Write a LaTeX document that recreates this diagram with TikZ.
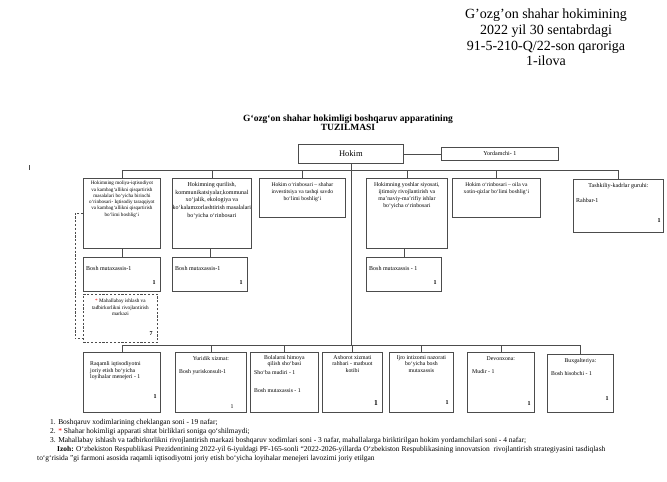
\documentclass[tikz,border=0pt]{standalone}
\usepackage{fontspec}
\setmainfont{Liberation Serif}
\newcommand{\fz}[2]{\fontsize{#1}{#2}\selectfont}
\begin{document}
\begin{tikzpicture}[x=1pt,y=-1pt,
  box/.style={draw=black!70, line width=0.8pt, anchor=north west, inner sep=0pt},
  dbox/.style={box, dash pattern=on 2.2pt off 1.6pt},
  link/.style={draw=black!70, line width=0.8pt},
  dlink/.style={link, dash pattern=on 2.2pt off 1.6pt},
  txt/.style={inner sep=0pt, align=center},
  ltxt/.style={inner sep=0pt, align=left, anchor=west},
  num/.style={inner sep=0pt, font=\bfseries\fz{6}{6}},
  foot/.style={inner sep=0pt, anchor=west, font=\fz{7.45}{7.45}},
  ]
\useasboundingbox[fill=white] (0,0) rectangle (667,482);

% header
\node[txt, font=\fz{14}{15.7}] (hdr) at (546,37.5) {G'ozg'on shahar hokimining\\2022 yil 30 sentabrdagi\\91-5-210-Q/22-son qaroriga\\1-ilova};
\node[txt, font=\bfseries\fz{9.5}{9.5}] (title) at (348,122.5) {G‘ozg‘on shahar hokimligi boshqaruv apparatining\\TUZILMASI};

% small tick
\coordinate (tk1) at (29,165);
\coordinate (tk2) at (29,170);
\draw[link, line width=0.6pt] (tk1) -- (tk2);

% Hokim and Yordamchi
\node[box, minimum width=105pt, minimum height=19pt] (hokim) at (298,144) {};
\node[txt, font=\fz{8.5}{8.5}] (hokimt) at (hokim.center) {Hokim};
\node[box, minimum width=117pt, minimum height=13pt] (yord) at (441,147) {};
\node[txt, font=\fz{6}{6}] (yordt) at (yord.center) {Yordamchi- 1};
\draw[link] (hokim.east |- yord.west) -- (yord.west);

% top row
\node[box, minimum width=77pt, minimum height=70pt] (t1) at (83,178) {};
\node[txt, anchor=north, font=\fz{5.1}{6.3}] (t1t) at ([yshift=-3pt]t1.north) {Hokimning moliya-iqtisodiyot\\va kambag‘allikni qisqartirish\\masalalari bo‘yicha birinchi\\o‘rinbosari- Iqtisodiy taraqqiyot\\va kambag‘allikni qisqartirish\\bo‘limi boshlig‘i};

\node[box, minimum width=79pt, minimum height=70pt] (t2) at (172,178) {};
\node[txt, anchor=north, font=\fz{6}{7.8}] (t2t) at ([yshift=-4pt]t2.north) {Hokimning qurilish,\\kommunikatsiyalar,kommunal\\xo‘jalik, ekologiya va\\ko‘kalamzorlashtirish masalalari\\bo‘yicha o‘rinbosari};

\node[box, minimum width=86pt, minimum height=39pt] (t3) at (259,178) {};
\node[txt, anchor=north, font=\fz{5.6}{7}] (t3t) at ([yshift=-4pt]t3.north) {Hokim o‘rinbosari – shahar\\investitsiya va tashqi savdo\\bo‘limi boshlig‘i};

\node[box, minimum width=81pt, minimum height=70pt] (t4) at (366,178) {};
\node[txt, anchor=north, font=\fz{5.8}{7}] (t4t) at ([yshift=-4pt]t4.north) {Hokimning yoshlar siyosati,\\ijtimoiy rivojlantirish va\\ma’naviy-ma’rifiy ishlar\\bo‘yicha o‘rinbosari};

\node[box, minimum width=88pt, minimum height=39pt] (t5) at (452,178) {};
\node[txt, anchor=north, font=\fz{5.6}{7}] (t5t) at ([yshift=-4pt]t5.north) {Hokim o‘rinbosari – oila va\\xotin-qizlar bo‘limi boshlig‘i};

\node[box, minimum width=90pt, minimum height=53pt] (t6) at (573,179) {};
\node[txt, anchor=north, font=\fz{6}{6}] (t6t) at ([yshift=-4.5pt]t6.north) {Tashkiliy-kadrlar guruhi:};
\node[ltxt, font=\fz{6}{6}] (t6r) at (576,200) {Rahbar-1};
\node[num] (t6n) at (659,221) {1};

% top bus
\coordinate (busL) at (121,170);
\draw[link] (t1.north |- busL) -- (t6.north |- busL);
\foreach \n in {t1,t2,t3,t4,t5,t6} {\draw[link] (\n.north |- busL) -- (\n.north);}
\draw[link] (hokim.south) -- (hokim.south |- busL);

% middle boxes
\node[box, minimum width=77pt, minimum height=34pt] (m1) at (83,257) {};
\node[ltxt, font=\fz{6}{6}] (m1t) at (86,268) {Bosh mutaxassis-1};
\node[num] (m1n) at (154,283) {1};
\node[box, minimum width=75pt, minimum height=34pt] (m2) at (172,257) {};
\node[ltxt, font=\fz{6}{6}] (m2t) at (175,268) {Bosh mutaxassis-1};
\node[num] (m2n) at (241,283) {1};
\node[box, minimum width=75pt, minimum height=34pt] (m4) at (366,257) {};
\node[ltxt, font=\fz{6}{6}] (m4t) at (369,268) {Bosh mutaxassis - 1};
\node[num] (m4n) at (435,283) {1};
\draw[link] (t1.south -| m1.north) -- (m1.north);
\draw[link] (t2.south -| m2.north) -- (m2.north);
\draw[link] (t4.south -| m4.north) -- (m4.north);

% dashed box
\node[dbox, minimum width=74pt, minimum height=48pt] (dsh) at (83,294) {};
\node[txt, anchor=north, font=\fz{5.2}{6.5}] (dsht) at ([yshift=-5pt]dsh.north) {{\color{red}*} Mahallabay ishlash va\\tadbirkorlikni rivojlantirish\\markazi};
\node[num] (dshn) at (151,334) {7};
\draw[dlink] ([yshift=-35pt]t1.north west) -- ++(-8,0) |- ([yshift=4pt]dsh.south west);

% bottom bus and trunk
\coordinate (bbus) at (351,345);
\draw[link] (hokim.south) -- (hokim.south |- bbus);

\node[box, minimum width=77pt, minimum height=60pt] (r1) at (83,352) {};
\node[box, minimum width=71pt, minimum height=60pt] (r2) at (175,352) {};
\node[box, minimum width=68pt, minimum height=60pt] (r3) at (250,352) {};
\node[box, minimum width=60pt, minimum height=60pt] (r4) at (322,352) {};
\node[box, minimum width=64pt, minimum height=60pt] (r5) at (389,352) {};
\node[box, minimum width=67pt, minimum height=60pt] (r6) at (467,352) {};
\node[box, minimum width=66pt, minimum height=58pt] (r7) at (547,354) {};
\draw[link] (r1.north |- bbus) -- (r7.north |- bbus);
\foreach \n in {r1,r2,r3,r4,r5,r6,r7} {\draw[link] (\n.north |- bbus) -- (\n.north);}

\node[ltxt, anchor=north west, font=\fz{5.8}{6.8}] (r1t) at (90,361) {Raqamli iqtisodiyotni\\joriy etish bo‘yicha\\loyihalar menejeri - 1};
\node[num] (r1n) at (155,397) {1};

\node[txt, anchor=north, font=\fz{5.8}{6.5}] (r2t) at ([yshift=-4pt]r2.north) {Yuridik xizmat:};
\node[ltxt, font=\fz{5.8}{5.8}] (r2b) at (179,372) {Bosh yuriskonsult-1};
\node[num, font=\fz{5.8}{5.8}] (r2n) at (232,407) {1};

\node[txt, anchor=north, font=\fz{5.8}{6.3}] (r3t) at ([yshift=-3pt]r3.north) {Bolalarni himoya\\qilish sho‘basi};
\node[ltxt, font=\fz{5.8}{5.8}] (r3a) at (254,373) {Sho‘ba mudiri - 1};
\node[ltxt, font=\fz{5.8}{5.8}] (r3b) at (254,391) {Bosh mutaxassis - 1};

\node[txt, anchor=north, font=\fz{5.8}{6.6}] (r4t) at ([yshift=-3pt]r4.north) {Axborot xizmati\\rahbari - matbuot\\kotibi};
\node[num, font=\bfseries\fz{7.5}{7.5}] (r4n) at (376,403) {1};

\node[txt, anchor=north, font=\fz{5.8}{6.6}] (r5t) at ([yshift=-3pt]r5.north) {Ijro intizomi nazorati\\bo‘yicha bosh\\mutaxassis};
\node[num] (r5n) at (447,403) {1};

\node[txt, anchor=north, font=\fz{5.8}{6.5}] (r6t) at ([yshift=-4pt]r6.north) {Devonxona:};
\node[ltxt, font=\fz{5.8}{5.8}] (r6b) at (472,372) {Mudir - 1};
\node[num] (r6n) at (529,404) {1};

\node[txt, anchor=north, font=\fz{5.8}{6.5}] (r7t) at ([yshift=-4pt]r7.north) {Buxgalteriya:};
\node[ltxt, font=\fz{5.8}{5.8}] (r7b) at (551,374) {Bosh hisobchi - 1};
\node[num] (r7n) at (607,399) {1};

% footnotes
\node[foot] (f1) at (50,423) {1. Boshqaruv xodimlarining cheklangan soni - 19 nafar;};
\node[foot] (f2) at (50,432) {2. {\color{red}*} Shahar hokimligi apparati shtat birliklari soniga qo‘shilmaydi;};
\node[foot] (f3) at (50,441) {3. Mahallabay ishlash va tadbirkorlikni rivojlantirish markazi boshqaruv xodimlari soni - 3 nafar, mahallalarga biriktirilgan hokim yordamchilari soni - 4 nafar;};
\node[foot] (f4) at (57,450) {\textbf{Izoh:} O‘zbekiston Respublikasi Prezidentining 2022-yil 6-iyuldagi PF-165-sonli “2022-2026-yillarda O‘zbekiston Respublikasining innovatsion\ \ rivojlantirish strategiyasini tasdiqlash};
\node[foot] (f5) at (37,459) {to‘g‘risida ”gi farmoni asosida raqamli iqtisodiyotni joriy etish bo‘yicha loyihalar menejeri lavozimi joriy etilgan};
\end{tikzpicture}
\end{document}
